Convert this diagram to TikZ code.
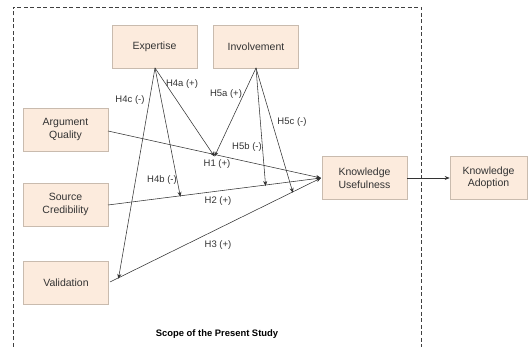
\documentclass[tikz,border=0pt]{standalone}
\usepackage{fontspec}
\setmainfont{Liberation Sans}
\usetikzlibrary{arrows.meta}
\definecolor{boxfill}{HTML}{FCEBDD}
\definecolor{boxline}{HTML}{C9BBAE}
\definecolor{txt}{HTML}{333333}
\tikzset{
  cbox/.style={draw=boxline, fill=boxfill, line width=0.6pt, minimum width=85pt, minimum height=43pt, align=center, font=\fontsize{10.5}{12.5}\selectfont, text=txt, inner sep=0pt},
  arr/.style={draw=black!80, line width=0.55pt, -{Stealth[length=5pt,width=4pt]}},
  hlab/.style={font=\fontsize{9.5}{11}\selectfont, text=txt, inner sep=0pt},
  scope/.style={draw=black!75, line width=0.6pt, dash pattern=on 4pt off 2.5pt}
}
\begin{document}
\begin{tikzpicture}[x=1pt,y=-1pt]
\useasboundingbox (0,0) rectangle (528,347);
\draw[scope] (13,347) -- (13,7) -- (421,7) -- (421,347);
\node[cbox] (EX) at (154.5,46.5) {Expertise};
\node[cbox] (IN) at (256,46.5) {Involvement};
\node[cbox] (AQ) at (65.5,129.5) {Argument\\Quality};
\node[cbox] (SC) at (65.5,204.5) {Source\\Credibility};
\node[cbox] (VA) at (66,282.5) {Validation};
\node[cbox] (KU) at (364.5,178) {Knowledge\\Usefulness};
\node[cbox, minimum width=77pt] (KA) at (488.5,178) {Knowledge\\Adoption};
\coordinate (KUin) at (321,178);
\coordinate (AQo) at (108,131);
\coordinate (SCo) at (108,205);
\coordinate (VAo) at (110,282);
\coordinate (EXo) at (155,68);
\coordinate (INo) at (256,68);
\draw[arr] (AQo) -- coordinate[pos=0.5] (p1) (KUin);
\draw[arr] (SCo) -- coordinate[pos=0.34] (p4b) coordinate[pos=0.74] (p5b) (KUin);
\draw[arr] (VAo) -- coordinate[pos=0.04] (p4c) coordinate[pos=0.867] (p5c) (KUin);
\draw[arr] (KU.east) -- (KA.west);
\draw[arr] (EXo) -- ([yshift=-2pt]p1);
\draw[arr] (INo) -- ([yshift=-2pt]p1);
\draw[arr] (EXo) -- ([yshift=-1pt]p4b);
\draw[arr] (EXo) -- ([yshift=-1pt]p4c);
\draw[arr] (INo) -- ([yshift=-1pt]p5b);
\draw[arr] (INo) -- ([yshift=-1pt]p5c);
\node[hlab] (l4c) at (130,100) {H4c (-)};
\node[hlab] (l4a) at (182,84) {H4a (+)};
\node[hlab] (l5a) at (226,94) {H5a (+)};
\node[hlab] (l5b) at (247,147) {H5b (-)};
\node[hlab] (l5c) at (292,122) {H5c (-)};
\node[hlab] (l1) at (217,164) {H1 (+)};
\node[hlab] (l4b) at (162,180) {H4b (-)};
\node[hlab] (l2) at (218,201) {H2 (+)};
\node[hlab] (l3) at (218,245) {H3 (+)};
\node[hlab, font=\fontsize{9.4}{11}\selectfont\bfseries, text=black] (sc) at (217,334) {Scope of the Present Study};
\end{tikzpicture}
\end{document}
